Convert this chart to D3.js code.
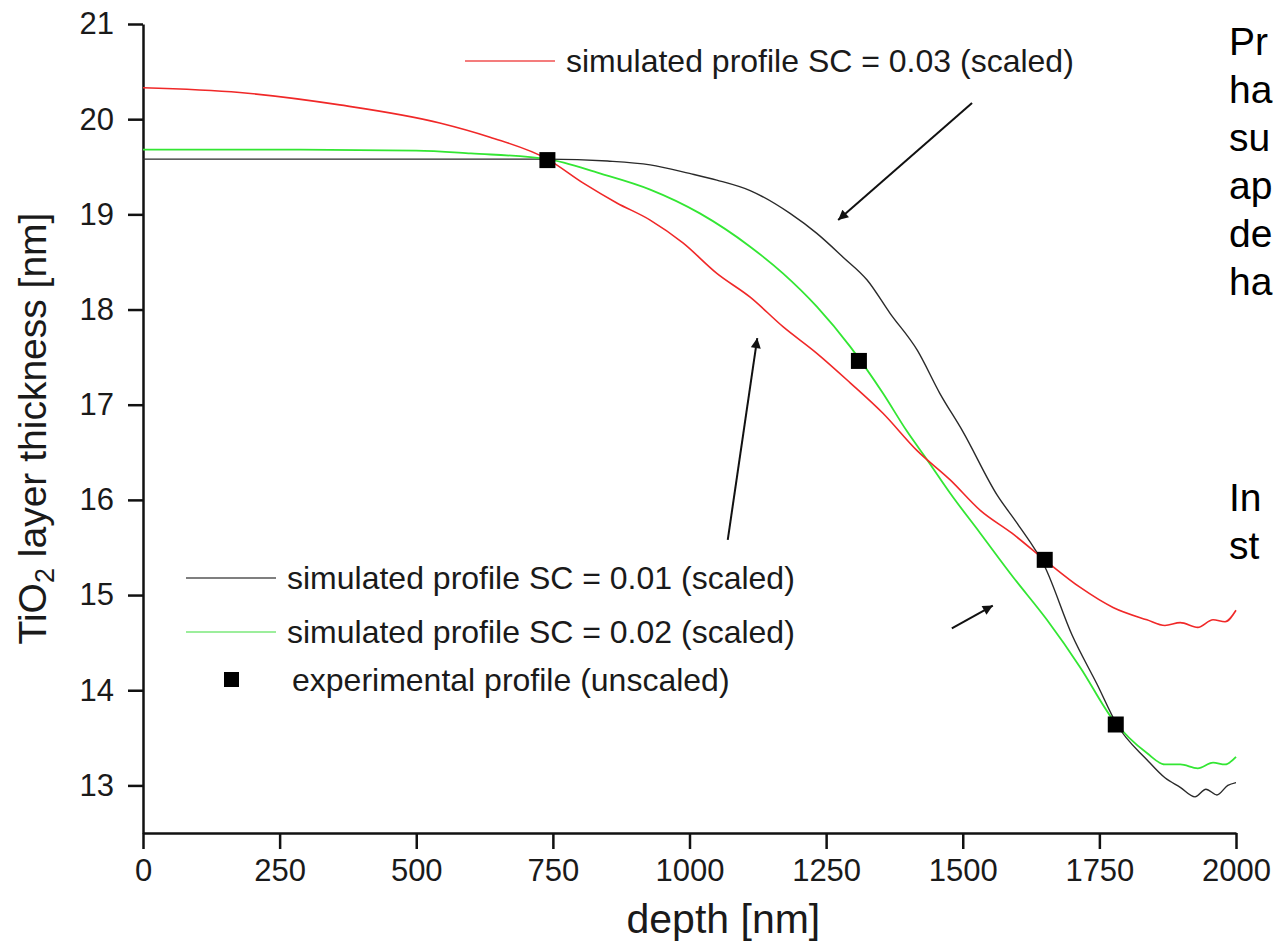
<!DOCTYPE html>
<html>
<head>
<meta charset="utf-8">
<script src="https://cdn.jsdelivr.net/npm/d3@7/dist/d3.min.js"></script>
<style>
  body { margin: 0; background: #fff; }
  svg { display: block; font-family: "Liberation Sans", Arial, sans-serif; }
</style>
</head>
<body>
<div id="chart"></div>
<script>
// tick values
const depthTicks = [0, 250, 500, 750, 1000, 1250, 1500, 1750, 2000];
const thicknessTicks = [13, 14, 15, 16, 17, 18, 19, 20, 21];

// simulated profiles, [depth nm, thickness nm]
const sc01 = [[0, 19.58], [250, 19.58], [500, 19.58], [740, 19.58], [850, 19.56], [928, 19.52],
  [1000, 19.43], [1050, 19.36], [1111, 19.25], [1184, 19.01], [1233, 18.8], [1281, 18.55],
  [1325, 18.31], [1367, 17.96], [1417, 17.57], [1458, 17.12], [1500, 16.72], [1563, 16.05],
  [1600, 15.75], [1650, 15.3], [1700, 14.58], [1746, 14.06], [1782, 13.64], [1837, 13.27],
  [1870, 13.08], [1898, 12.98], [1925, 12.88], [1945, 12.96], [1965, 12.9], [1985, 13.0], [2000, 13.03]];

const sc02 = [[0, 19.68], [250, 19.68], [500, 19.67], [600, 19.64], [740, 19.58], [836, 19.43],
  [928, 19.26], [1019, 19.01], [1111, 18.66], [1171, 18.38], [1233, 18.03], [1294, 17.61],
  [1354, 17.12], [1398, 16.72], [1435, 16.42], [1477, 16.07], [1532, 15.65], [1592, 15.19],
  [1654, 14.74], [1715, 14.24], [1775, 13.69], [1837, 13.34], [1870, 13.22], [1898, 13.22],
  [1930, 13.18], [1958, 13.24], [1980, 13.22], [2000, 13.3]];

const sc03 = [[0, 20.33], [177, 20.28], [360, 20.15], [543, 19.96], [635, 19.81], [740, 19.58],
  [805, 19.33], [867, 19.12], [928, 18.94], [988, 18.7], [1050, 18.38], [1111, 18.13],
  [1171, 17.82], [1233, 17.54], [1294, 17.23], [1354, 16.91], [1416, 16.52], [1477, 16.21],
  [1532, 15.89], [1590, 15.65], [1654, 15.35], [1715, 15.08], [1775, 14.87], [1837, 14.74],
  [1870, 14.68], [1898, 14.71], [1930, 14.66], [1958, 14.74], [1980, 14.72], [2000, 14.84]];

// experimental profile (unscaled)
const experimental = [[740, 19.57], [1310, 17.46], [1650, 15.37], [1780, 13.64]];

// arrows pointing at curves, in data coords
const arrows = [
  { from: [1517, 20.17], to: [1272, 18.94] },
  { from: [1070, 15.58], to: [1124, 17.7] },
  { from: [1480, 14.65], to: [1555, 14.89] }
];

// text of the slide that sits beside the chart (cut off at page edge)
const slideLinesTop = ["Pr", "ha", "su", "ap", "de", "ha"];
const slideLinesBottom = ["In", "st"];

const width = 1273, height = 945;

const svg = d3.select("#chart")
    .append("svg")
    .attr("width", width)
    .attr("height", height);

const x = d3.scaleLinear().domain([0, 2000]).range([143, 1236]);
const y = d3.scaleLinear().domain([12.5, 21]).range([833, 24]);

// arrowhead marker
svg.append("defs").append("marker")
    .attr("id", "head")
    .attr("viewBox", "0 0 10 10")
    .attr("refX", 10)
    .attr("refY", 5)
    .attr("markerWidth", 16)
    .attr("markerHeight", 10)
    .attr("markerUnits", "userSpaceOnUse")
    .attr("orient", "auto")
    .append("path")
    .attr("d", "M0,0 L10,5 L0,10 Z")
    .attr("fill", "#111");

// x axis
const xAxis = svg.append("g")
    .attr("transform", `translate(0, ${y(12.5)})`)
    .call(d3.axisBottom(x).tickValues(depthTicks).tickFormat(d3.format("d"))
        .tickSize(16).tickPadding(10).tickSizeOuter(0));
// y axis
const yAxis = svg.append("g")
    .attr("transform", `translate(${x(0)}, 0)`)
    .call(d3.axisLeft(y).tickValues(thicknessTicks).tickSize(15).tickPadding(14).tickSizeOuter(0));

[xAxis, yAxis].forEach(g => {
    g.select(".domain").attr("stroke", "#111").attr("stroke-width", 2.5);
    g.selectAll(".tick line").attr("stroke", "#111").attr("stroke-width", 2.5);
    g.selectAll(".tick text")
        .attr("fill", "#1a1a1a")
        .style("font-family", "'Liberation Sans', Arial, sans-serif")
        .style("font-size", "31px");
});

// axis titles
svg.append("text")
    .attr("text-anchor", "middle")
    .attr("x", x(1062))
    .attr("y", 933)
    .style("font-size", "41px")
    .attr("fill", "#1a1a1a")
    .text("depth [nm]");

const yTitle = svg.append("text")
    .attr("text-anchor", "middle")
    .attr("transform", `translate(46, ${y(16.75)}) rotate(-90)`)
    .style("font-size", "39px")
    .attr("fill", "#1a1a1a");
yTitle.append("tspan").text("TiO");
yTitle.append("tspan").attr("dy", 8).style("font-size", "27px").text("2");
yTitle.append("tspan").attr("dy", -8).text(" layer thickness [nm]");

// profile lines
const line = d3.line()
    .x(d => x(d[0]))
    .y(d => y(d[1]))
    .curve(d3.curveMonotoneX);

const series = [
    { data: sc01, color: "#2a2a2a", w: 1.4 },
    { data: sc02, color: "#33e633", w: 1.8 },
    { data: sc03, color: "#f02828", w: 1.6 }
];

svg.selectAll("path.profile")
    .data(series)
    .join("path")
    .attr("class", "profile")
    .attr("d", d => line(d.data))
    .attr("fill", "none")
    .attr("stroke", d => d.color)
    .attr("stroke-width", d => d.w);

// experimental squares
svg.selectAll("rect.exp")
    .data(experimental)
    .join("rect")
    .attr("class", "exp")
    .attr("x", d => x(d[0]) - 8)
    .attr("y", d => y(d[1]) - 8)
    .attr("width", 16)
    .attr("height", 16)
    .attr("fill", "#000");

// arrows
svg.selectAll("line.arrow")
    .data(arrows)
    .join("line")
    .attr("class", "arrow")
    .attr("x1", d => x(d.from[0]))
    .attr("y1", d => y(d.from[1]))
    .attr("x2", d => x(d.to[0]))
    .attr("y2", d => y(d.to[1]))
    .attr("stroke", "#111")
    .attr("stroke-width", 2)
    .attr("marker-end", "url(#head)");

// legends
const legendFont = "32px";
function legendLine(x0, yy, color, label) {
    svg.append("line")
        .attr("x1", x0).attr("x2", x0 + 90)
        .attr("y1", yy).attr("y2", yy)
        .attr("stroke", color)
        .attr("stroke-width", 1.6);
    svg.append("text")
        .attr("x", x0 + 101)
        .attr("y", yy + 11)
        .style("font-size", legendFont)
        .attr("fill", "#1a1a1a")
        .text(label);
}
legendLine(465, 61, "#f05050", "simulated profile SC = 0.03 (scaled)");
legendLine(186, 578, "#555", "simulated profile SC = 0.01 (scaled)");
legendLine(186, 632, "#7be87b", "simulated profile SC = 0.02 (scaled)");

svg.append("rect")
    .attr("x", 224).attr("y", 672)
    .attr("width", 15).attr("height", 15)
    .attr("fill", "#000");
svg.append("text")
    .attr("x", 292)
    .attr("y", 691)
    .style("font-size", legendFont)
    .attr("fill", "#1a1a1a")
    .text("experimental profile (unscaled)");

// slide text at the right edge
svg.selectAll("text.slideTop")
    .data(slideLinesTop)
    .join("text")
    .attr("class", "slideTop")
    .attr("x", 1229)
    .attr("y", (d, i) => 55 + i * 48)
    .style("font-size", "39px")
    .attr("fill", "#000")
    .text(d => d);

svg.selectAll("text.slideBottom")
    .data(slideLinesBottom)
    .join("text")
    .attr("class", "slideBottom")
    .attr("x", 1229)
    .attr("y", (d, i) => 511 + i * 48)
    .style("font-size", "39px")
    .attr("fill", "#000")
    .text(d => d);
</script>
</body>
</html>
